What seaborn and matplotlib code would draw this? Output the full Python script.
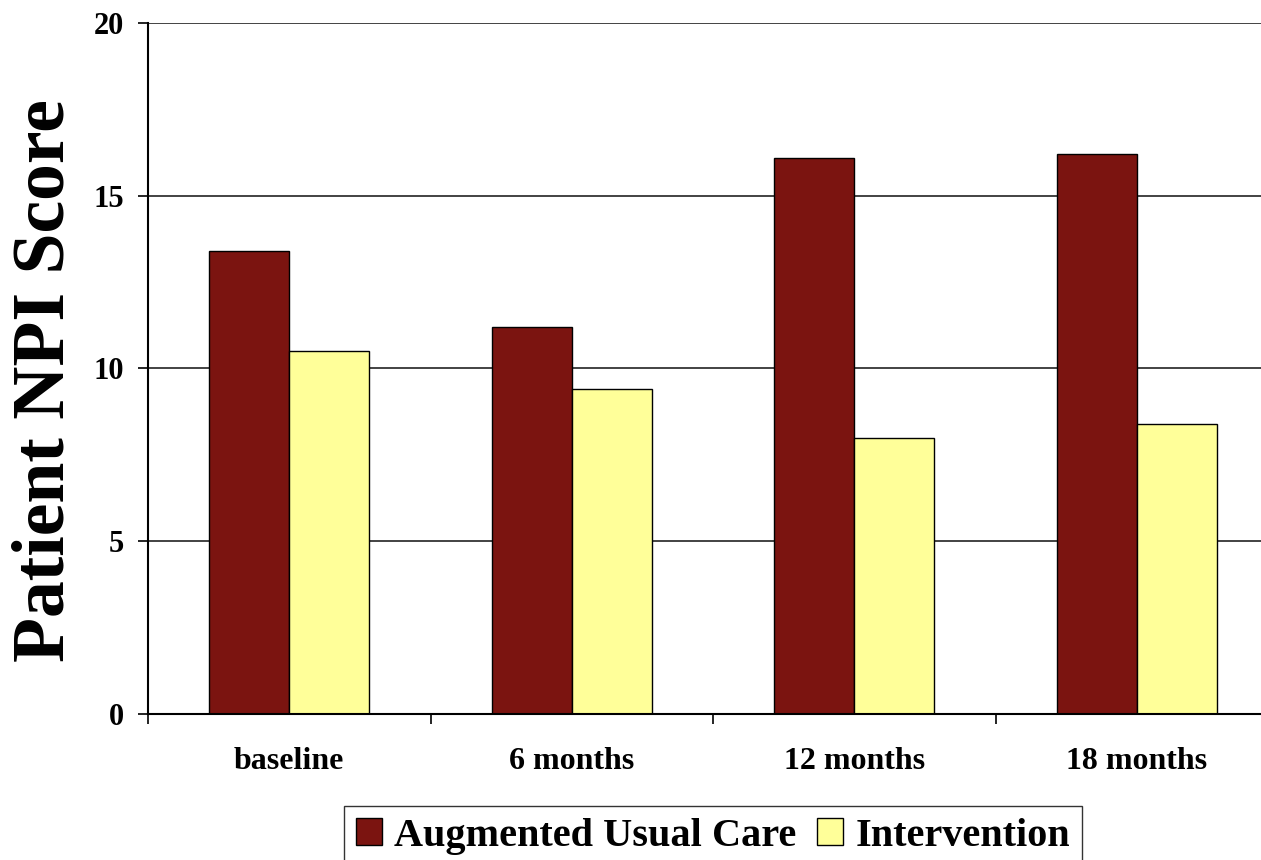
import matplotlib
matplotlib.use("Agg")
import matplotlib.pyplot as plt
import seaborn as sns
import pandas as pd
from matplotlib.ticker import FixedLocator

# Mean patient NPI score by visit and study arm
visits = ["baseline", "6 months", "12 months", "18 months"]
usual_care = [13.4, 11.2, 16.1, 16.2]
intervention = [10.5, 9.4, 8.0, 8.4]
groups = ["Augmented Usual Care", "Intervention"]
colors = ["#7B1410", "#FFFF99"]

df = pd.DataFrame({
    "visit": visits * 2,
    "score": usual_care + intervention,
    "group": [groups[0]] * len(visits) + [groups[1]] * len(visits),
})

sns.set_theme(style="white")
plt.rcParams["font.family"] = ["Liberation Serif", "DejaVu Serif"]
plt.rcParams["font.weight"] = "bold"
plt.rcParams["text.color"] = "black"
plt.rcParams["xtick.color"] = "black"
plt.rcParams["ytick.color"] = "black"
plt.rcParams["axes.labelcolor"] = "black"

W, H = 1261, 860
fig = plt.figure(figsize=(W / 100, H / 100), dpi=100)
ax = fig.add_axes([148 / W, (H - 714) / H, (1278 - 148) / W, (714 - 23) / H])

sns.barplot(data=df, x="visit", y="score", hue="group", order=visits,
            hue_order=groups, palette=colors, width=0.566, dodge=True,
            edgecolor="black", linewidth=1.0, saturation=1, ax=ax, legend=True)

ax.set_ylim(0, 20)
ax.set_xlim(-0.5, len(visits) - 0.5)
ax.set_yticks([0, 5, 10, 15, 20])
ax.set_yticklabels(["0", "5", "10", "15", "20"], fontsize=22, fontweight="bold")
ax.yaxis.grid(True, color="#222222", linewidth=1.2)
ax.set_axisbelow(True)

# category labels at centres, tick marks at category boundaries
ax.set_xticks(range(len(visits)))
ax.set_xticklabels(visits, fontsize=23, fontweight="bold")
ax.tick_params(axis="x", which="major", length=0, pad=24)
ax.xaxis.set_minor_locator(FixedLocator([i - 0.5 for i in range(len(visits) + 1)]))
ax.tick_params(axis="x", which="minor", length=7, width=1.2, color="black",
               direction="out", bottom=True)
ax.tick_params(axis="y", length=7, width=1.2, color="black", direction="out",
               left=True, pad=10)

for side in ["top", "right"]:
    ax.spines[side].set_visible(False)
for side in ["left", "bottom"]:
    ax.spines[side].set_color("black")
    ax.spines[side].set_linewidth(1.5)

ax.set_xlabel("")
ax.set_ylabel("Patient NPI Score", fontsize=53, fontweight="bold")
ax.yaxis.set_label_coords(-0.061, 0.483)

handles, labels = ax.get_legend_handles_labels()
ax.legend_.remove()
fig.legend(handles, labels, loc="upper center", ncol=2,
           bbox_to_anchor=(713 / W, 1 - 806 / H), borderaxespad=0,
           frameon=True, fancybox=False, edgecolor="black",
           prop={"size": 29, "weight": "bold"},
           handlelength=0.65, handleheight=0.65, handletextpad=0.3,
           columnspacing=0.5, borderpad=0.3)

fig.savefig("out.png", dpi=100)
